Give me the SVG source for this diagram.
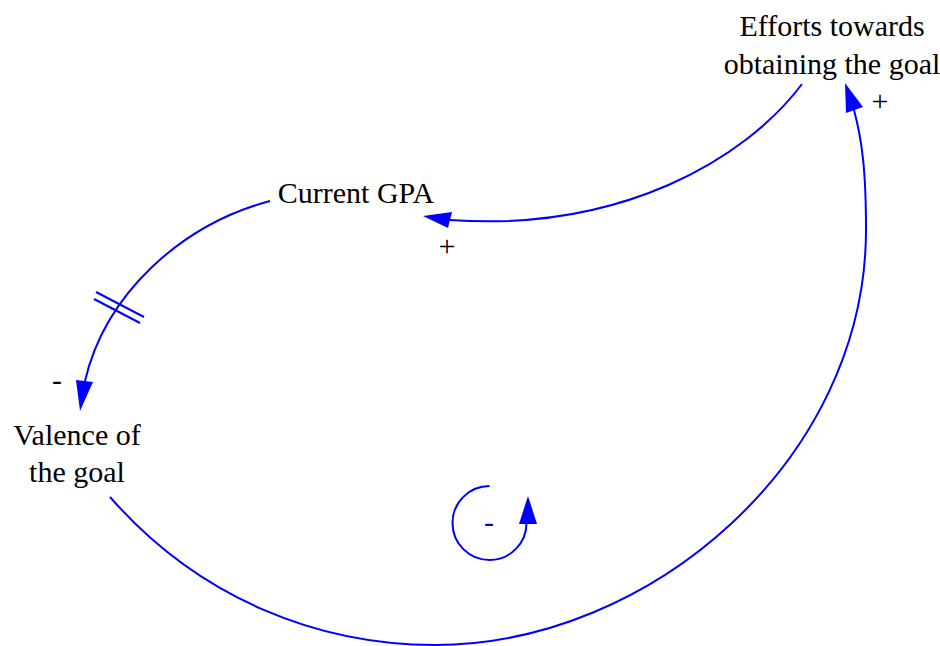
<svg xmlns="http://www.w3.org/2000/svg" width="940" height="646" viewBox="0 0 940 646">
<style>
.lbl{font-family:"Liberation Serif","Times New Roman",serif;font-size:30px;fill:#000;text-anchor:middle}
.pol{font-family:"Liberation Serif","Times New Roman",serif;font-size:30px;fill:#000;text-anchor:middle}
.lnk{fill:none;stroke:#0000FF;stroke-width:2}
.ah{fill:#0000FF;stroke:none}
.hash{stroke:#0000FF;stroke-width:2;fill:none}
</style>
<rect width="940" height="646" fill="#fff"/>
<g id="node-efforts"><text class="lbl" x="832" y="36">Efforts towards</text><text class="lbl" x="832" y="74">obtaining the goal</text></g>
<g id="node-gpa"><text class="lbl" x="356" y="203">Current GPA</text></g>
<g id="node-valence"><text class="lbl" x="77" y="445">Valence of</text><text class="lbl" x="77" y="482">the goal</text></g>
<g id="connectors">
<path class="lnk" d="M802,84 C745,160 620,232 450,220"/>
<polygon class="ah" points="423,216 452,212 448,228"/>
<text class="pol" x="447" y="256">+</text>
<path class="lnk" d="M270,201 C180,225 105,295 85,381"/>
<line class="hash" x1="96" y1="292" x2="144" y2="317"/>
<line class="hash" x1="94" y1="299" x2="140" y2="323"/>
<polygon class="ah" points="80,411 76,380 93,382"/>
<text class="pol" x="57" y="390">-</text>
<path class="lnk" d="M110,497 C200,600 320,645 435,645 C650,645 866,460 866,230 C866,170 862,140 854,110"/>
<polygon class="ah" points="845,83 846,113 863,107"/>
<text class="pol" x="880" y="111">+</text>
</g>
<g id="loop">
<path class="lnk" d="M489.5,486 A37,37 0 1 0 526.5,523 L527,524"/>
<polygon class="ah" points="528,496 519,524 537,524"/>
<text x="489" y="532" style="font-family:'Liberation Serif','Times New Roman',serif;font-size:30px;fill:#0000FF;text-anchor:middle">-</text>
</g>
</svg>
